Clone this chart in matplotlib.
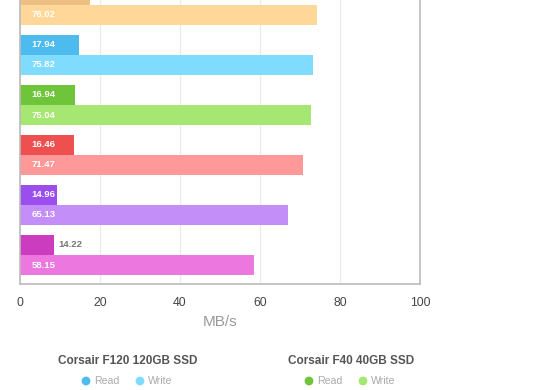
import numpy as np
import matplotlib.pyplot as plt

plt.rcParams['font.family'] = ['Liberation Sans', 'DejaVu Sans']

# six drives, top (cut off) to bottom
read_vals = [17.5, 14.75, 13.75, 13.5, 9.25, 8.5]
write_vals = [74.25, 73.25, 72.75, 70.75, 67.0, 58.5]
read_labels = [None, "17.94", "16.94", "16.46", "14.96", "14.22"]
write_labels = ["76.02", "75.82", "75.04", "71.47", "65.13", "58.15"]
read_colors = ["#EDBF80", "#4DBBEE", "#6EC53A", "#EE5050", "#9B4EEE", "#CC3CBE"]
write_colors = ["#FFD899", "#80DCFF", "#A6E673", "#FF9999", "#C38EF7", "#EB77DF"]
x_ticks = [0, 20, 40, 60, 80, 100]

legend_groups = ["Corsair F120 120GB SSD", "Corsair F40 40GB SSD"]
legend_colors = [("#4DBBEE", "#80DCFF"), ("#6EC53A", "#A6E673")]

W, H = 560, 390
fig = plt.figure(figsize=(W / 100, H / 100), dpi=100)
ax = fig.add_axes([20 / W, (H - 284) / H, 400 / W, 284 / H])

y = np.arange(len(read_vals))
ax.barh(y - 0.2, read_vals, height=0.4, color=read_colors, zorder=2)
ax.barh(y + 0.2, write_vals, height=0.4, color=write_colors, zorder=2)

for i in range(len(y)):
    if read_labels[i]:
        if read_vals[i] > 9:
            ax.text(2.9, y[i] - 0.2, read_labels[i], color="white", fontsize=6.8,
                    fontweight="bold", va="center", ha="left", zorder=3)
        else:
            ax.text(read_vals[i] + 1.2, y[i] - 0.2, read_labels[i], color="#777777",
                    fontsize=6.8, fontweight="bold", va="center", ha="left", zorder=3)
    ax.text(2.9, y[i] + 0.2, write_labels[i], color="white", fontsize=6.8,
            fontweight="bold", va="center", ha="left", zorder=3)

ax.set_xlim(0, 100)
ax.set_ylim(5.58, -0.1)
ax.set_yticks([])
ax.set_xticks(x_ticks)
ax.tick_params(axis="x", length=0, pad=9, labelsize=8.8, labelcolor="#444444")
ax.grid(axis="x", color="#EBEBEB", lw=1, zorder=0)
ax.spines["top"].set_visible(False)
for s in ["left", "right", "bottom"]:
    ax.spines[s].set_color("#BBBBBB")
    ax.spines[s].set_linewidth(1.2)
ax.set_xlabel("MB/s", fontsize=11, color="#999999", labelpad=5)

# legend drawn by hand in pixel coordinates
lg = fig.add_axes([0, 0, 1, 1], zorder=-1)
lg.set_xlim(0, W)
lg.set_ylim(H, 0)
lg.axis("off")
centers = [128, 351]
for c, name, (c_read, c_write) in zip(centers, legend_groups, legend_colors):
    lg.text(c, 361, name, ha="center", va="center", fontsize=8.5,
            fontweight="bold", color="#555555")
    lg.scatter([c - 42, c + 12], [381, 381], s=40, color=[c_read, c_write], lw=0)
    lg.text(c - 34, 381.5, "Read", ha="left", va="center", fontsize=7.6, color="#AAAAAA")
    lg.text(c + 20, 381.5, "Write", ha="left", va="center", fontsize=7.6, color="#AAAAAA")

fig.savefig("out.png", dpi=100)
